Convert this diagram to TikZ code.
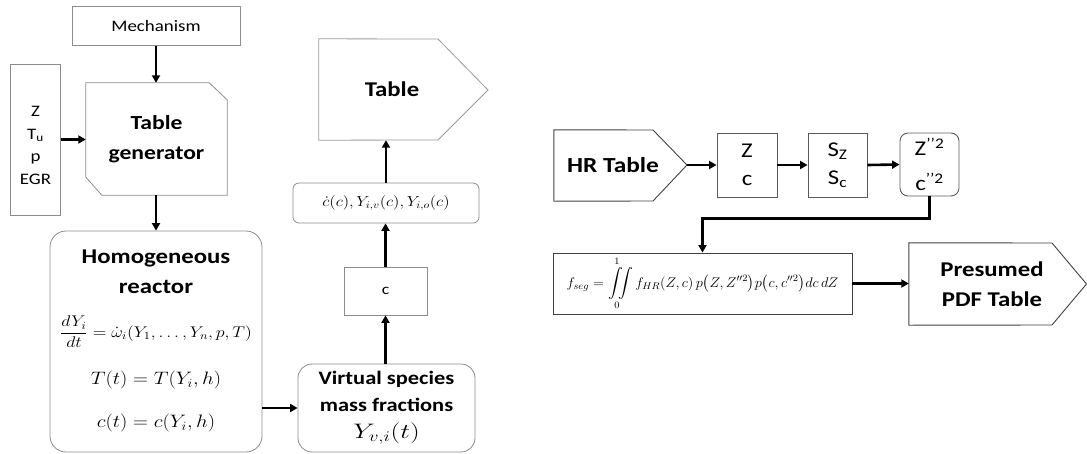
\RequirePackage{fix-cm}
\documentclass[tikz,border=0pt]{standalone}
\usepackage{amsmath}
\usepackage{graphicx}
\usepackage{fontspec}
\setmainfont{Carlito}[FakeStretch=1.18]
\usetikzlibrary{arrows.meta}
\definecolor{lgray}{HTML}{8C8C8C}
\definecolor{mgray}{HTML}{5A5A5A}
\definecolor{dgray}{HTML}{404040}
\newcommand{\fs}[2]{\fontsize{#1}{#2}\selectfont}
\newcommand{\mx}[2][1.15]{\scalebox{#1}[1]{$\displaystyle #2$}}
\begin{document}
\begin{tikzpicture}[x=1pt,y=-1pt,
  box/.style={draw=lgray, line width=0.8pt, inner sep=0pt, align=center},
  dbox/.style={draw=mgray, line width=0.9pt, inner sep=0pt, align=center},
  plain/.style={inner sep=0pt, align=center},
  outl/.style={draw=lgray, line width=0.8pt},
  doutl/.style={draw=dgray, line width=0.9pt},
  arr/.style={line width=2.6pt, -{Triangle[length=7.5pt,width=8pt]}}]
\useasboundingbox (0,0) rectangle (1087,453);

% ---------- left part ----------
\node[box, minimum width=168pt, minimum height=39pt, font=\fs{16}{19}] (mech) at (156,26) {Mechanism};
\node[box, minimum width=50pt, minimum height=151pt, font=\fs{16}{22.5}] (inp) at (35.5,139.5)
  {\rule{0pt}{22pt}Z\\T\textsubscript{u}\\p\\EGR};
\node[plain, minimum width=141pt, minimum height=112pt, font=\fs{20}{30}\bfseries] (tg) at (156.5,139)
  {Table\\generator};
\draw[outl] (tg.north west) -- ([xshift=-18pt]tg.north east) -- ([yshift=-17pt]tg.north east)
  -- (tg.south east) -- ([xshift=16pt]tg.south west) -- ([yshift=18pt]tg.south west) -- cycle;

\node[box, rounded corners=16pt, minimum width=212pt, minimum height=221pt] (hr) at (156,341.5) {};
\node[plain, font=\fs{21}{30}\bfseries] (hrtitle) at (156,272) {Homogeneous\\reactor};
\node[plain, font=\fs{15.5}{19}] (eq1) at (156,332) {\mx{\frac{dY_i}{dt}=\dot{\omega}_i(Y_1,\ldots,Y_n,p,T)}};
\node[plain, font=\fs{18}{21}] (eq2) at (156,380) {\mx{T(t)=T(Y_i,h)}};
\node[plain, font=\fs{18}{21}] (eq3) at (156,423) {\mx{c(t)=c(Y_i,h)}};

\node[box, rounded corners=14pt, minimum width=177pt, minimum height=88pt, font=\fs{19}{27}] (vs) at (386.5,408)
  {\textbf{Virtual species}\\\textbf{mass fractions}\\{\fs{21}{27}\mx[1.3]{Y_{v,i}(t)}}};
\node[box, minimum width=83pt, minimum height=48pt, font=\fs{15}{18}] (cb) at (385.5,291) {c};
\node[box, rounded corners=6pt, minimum width=186pt, minimum height=40pt, font=\fs{14.5}{18}] (cd) at (386,203)
  {\mx{\dot{c}(c),Y_{i,v}(c),Y_{i,o}(c)}};
\node[plain, minimum width=146pt, minimum height=101pt, font=\fs{21}{25}\bfseries] (tab) at (392,89.5) {Table};
\draw[draw=gray!80, line width=0.8pt] (tab.north west) -- (438,39) -- (488,90) -- (438,140) -- (tab.south west) -- cycle;

\draw[arr] (mech.south) -- (mech.south |- tg.north);
\draw[arr] (inp.east) -- (inp.east -| tg.west);
\draw[arr] (tg.south -| hr.north) -- (hr.north);
\draw[arr] (vs.west -| hr.east) -- (vs.west);
\draw[arr] (vs.north -| cb.south) -- (cb.south);
\draw[arr] (cb.north) -- (cb.north |- cd.south);
\draw[arr] (cd.north) -- (cd.north |- tab.south);

% ---------- right part ----------
\node[plain, minimum width=118pt, minimum height=71pt, font=\fs{21.5}{26}\bfseries] (hrt) at (613,165.5) {HR Table};
\coordinate (hrtip) at (687,165);
\draw[doutl] (hrt.north west) -- (653,130) -- (hrtip) -- (653,201) -- (hrt.south west) -- cycle;

\node[dbox, minimum width=60pt, minimum height=64pt, font=\fs{21}{28}] (zc) at (747,165) {Z\\c};
\node[dbox, minimum width=59pt, minimum height=64pt, font=\fs{21}{28}] (sb) at (837.5,165)
  {S\textsubscript{Z}\\S\textsubscript{c}};
\node[dbox, rounded corners=8pt, minimum width=59pt, minimum height=63pt, font=\fs{21}{35}] (zz) at (929.5,164.5)
  {Z\textsuperscript{’’2}\\c\textsuperscript{’’2}};

\node[draw=dgray, line width=0.9pt, inner sep=0pt, minimum width=299pt, minimum height=61pt, font=\fs{14}{16}] (f) at (702.5,283.5)
  {\mx[1.03]{f_{seg}=\iint\limits_{0}^{1} f_{HR}(Z,c)\,p\bigl(Z,Z^{\prime\prime 2}\bigr)p\bigl(c,c^{\prime\prime 2}\bigr)dc\,dZ}};

\node[plain, minimum width=166pt, minimum height=82pt, font=\fs{21}{30}\bfseries] (pdf) at (992,284)
  {Presumed\\PDF Table};
\draw[doutl] (pdf.north west) -- (1052,243) -- (1086.5,284) -- (1052,325) -- (pdf.south west) -- cycle;

\draw[arr] (hrtip) -- (hrtip -| zc.west);
\draw[arr] (zc.east) -- (sb.west);
\draw[arr] (sb.east) -- (zz.west);
\draw[arr] (zz.south) -- ++(0,22) -| (f.north);
\draw[arr] (f.east) -- (f.east -| pdf.west);
\end{tikzpicture}
\end{document}
